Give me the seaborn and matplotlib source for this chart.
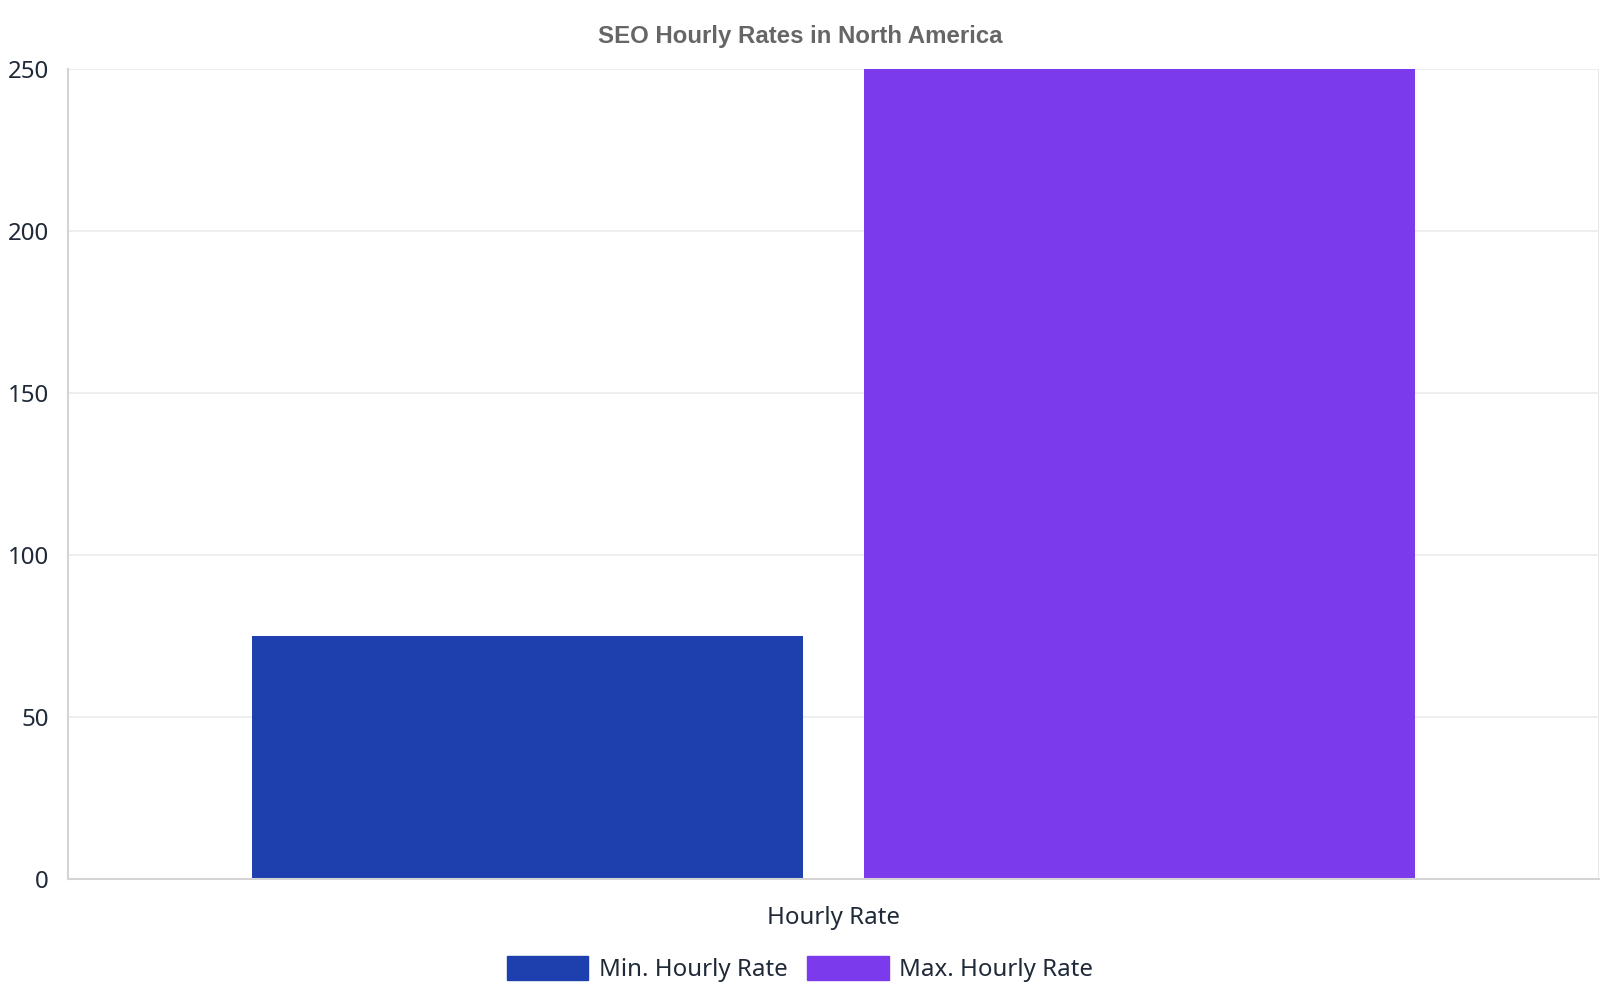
import matplotlib
matplotlib.use("Agg")
import matplotlib.pyplot as plt
import numpy as np
import pandas as pd
import seaborn as sns

# data
categories = ["Hourly Rate"]
series = ["Min. Hourly Rate", "Max. Hourly Rate"]
rates = [75, 250]
colors = ["#1e40af", "#7c3aed"]
y_ticks = [0, 50, 100, 150, 200, 250]

df = pd.DataFrame({
    "category": categories * len(series),
    "series": series,
    "rate": rates,
})

sns.set_theme(style="white")
plt.rcParams["font.family"] = ["Noto Sans", "DejaVu Sans"]

fig, ax = plt.subplots(figsize=(16, 10), dpi=100)
fig.subplots_adjust(left=0.0427, right=0.9994, top=0.9306, bottom=0.1214)

sns.barplot(data=df, x="category", y="rate", hue="series",
            palette=dict(zip(series, colors)), width=0.8, gap=0.1,
            saturation=1, linewidth=0, ax=ax, legend=False)

ax.set_xlim(-0.5, 0.5)
ax.set_ylim(0, 250)
ax.set_yticks(y_ticks)
ax.set_xlabel("")
ax.set_ylabel("")

# grid
ax.set_axisbelow(True)
ax.yaxis.grid(True, color="#ebebeb", lw=1.2)
ax.set_xticks([-0.5, 0.5], minor=True)
ax.xaxis.grid(True, which="minor", color="#e3e3e3", lw=1.2)
ax.tick_params(axis="x", which="minor", length=10, color="#e3e3e3", width=1.2)
ax.tick_params(axis="x", which="major", length=0, pad=20, labelsize=17.3,
               labelcolor="#1f2937")
ax.tick_params(axis="y", length=10, color="#ebebeb", width=1.2, pad=4,
               labelsize=17.3, labelcolor="#1f2937")

for s in ["top", "right"]:
    ax.spines[s].set_visible(False)
for s in ["left", "bottom"]:
    ax.spines[s].set_color("#d4d4d4")
    ax.spines[s].set_linewidth(1.5)

fig.text(0.5, 0.964, "SEO Hourly Rates in North America", ha="center",
         va="center", fontsize=17.3, fontweight="bold", color="#666666",
         family=["Liberation Sans", "DejaVu Sans"])

handles = [plt.Rectangle((0, 0), 1, 1, color=c) for c in colors]
fig.legend(handles, series, loc="center", bbox_to_anchor=(0.5, 0.031),
           ncol=2, frameon=False, fontsize=17.3, handlelength=3.4,
           handleheight=1.15, handletextpad=0.45, columnspacing=0.8,
           labelcolor="#1f2937")

plt.savefig("out.png", dpi=100)
plt.close()
